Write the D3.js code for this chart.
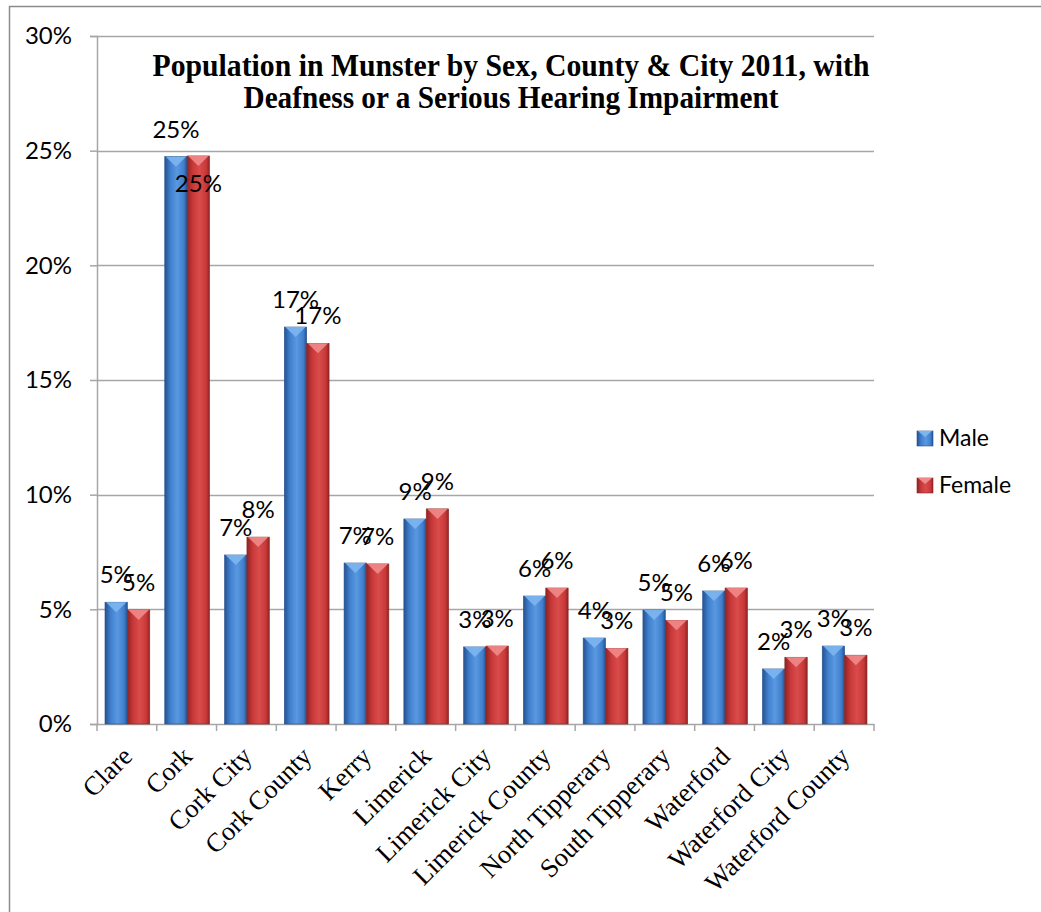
<!DOCTYPE html>
<html>
<head>
<meta charset="utf-8">
<script src="https://cdn.jsdelivr.net/npm/d3@7"></script>
<style>
  body { margin: 0; background: #fff; }
  svg { display: block; }
</style>
</head>
<body>
<svg id="chart" width="1041" height="912"></svg>
<script>
//
// Data
//
var categories = ['Clare', 'Cork', 'Cork City', 'Cork County', 'Kerry', 'Limerick',
  'Limerick City', 'Limerick County', 'North Tipperary', 'South Tipperary',
  'Waterford', 'Waterford City', 'Waterford County']
var male   = [5.31, 24.74, 7.37, 17.31, 7.02, 8.94, 3.36, 5.58, 3.75, 4.97, 5.80, 2.40, 3.40]
var female = [4.97, 24.77, 8.15, 16.60, 6.98, 9.38, 3.40, 5.93, 3.30, 4.52, 5.93, 2.91, 3.00]
var seriesNames = ['Male', 'Female']
var yTicks = [0, 5, 10, 15, 20, 25, 30]
var titleLines = ['Population in Munster by Sex, County & City 2011, with',
  'Deafness or a Serious Hearing Impairment']

//
// Layout
//
var svg = d3.select('#chart')
var margin = { left: 97, top: 36, right: 874, bottom: 724 }
var colors = {
  Male:   { dark: '#25528f', mid: '#3f7fcd', light: '#5a98e0', top: '#7db6ef' },
  Female: { dark: '#8e2424', mid: '#c93838', light: '#d94c4c', top: '#ef8a8a' }
}
var gridColor = '#a6a6a6'
var labelFont = 'Lato, "Open Sans", sans-serif'
var serifFont = '"Liberation Serif", "Times New Roman", serif'

var x = d3.scaleBand().domain(categories).range([margin.left, margin.right])
var xs = d3.scaleBand().domain(seriesNames).range([8, x.bandwidth() - 7])
var y = d3.scaleLinear().domain([0, 30]).range([margin.bottom, margin.top])

// gradients
var defs = svg.append('defs')
seriesNames.forEach(function(s) {
  var g = defs.append('linearGradient').attr('id', 'grad-' + s)
    .attr('x1', 0).attr('x2', 1).attr('y1', 0).attr('y2', 0)
  g.append('stop').attr('offset', '0%').attr('stop-color', colors[s].dark)
  g.append('stop').attr('offset', '25%').attr('stop-color', colors[s].mid)
  g.append('stop').attr('offset', '55%').attr('stop-color', colors[s].light)
  g.append('stop').attr('offset', '85%').attr('stop-color', colors[s].mid)
  g.append('stop').attr('offset', '100%').attr('stop-color', colors[s].dark)
})

// outer border
svg.append('rect').attr('x', 9.5).attr('y', 6.5).attr('width', 1100).attr('height', 1000)
  .attr('fill', 'none').attr('stroke', '#8c8c8c').attr('stroke-width', 1.5)

// gridlines
svg.append('g').selectAll('line').data(yTicks.slice(1)).join('line')
  .attr('x1', margin.left).attr('x2', margin.right)
  .attr('y1', function(d) { return Math.round(y(d)) + 0.5 })
  .attr('y2', function(d) { return Math.round(y(d)) + 0.5 })
  .attr('stroke', gridColor).attr('stroke-width', 1.5)

// y axis
var yAxis = svg.append('g').attr('transform', 'translate(' + margin.left + ',0)')
  .call(d3.axisLeft(y).tickValues(yTicks).tickSize(7).tickPadding(18)
    .tickFormat(function(d) { return d + '%' }))
yAxis.selectAll('path, line').attr('stroke', gridColor).attr('stroke-width', 1.5)
yAxis.selectAll('text').attr('font-family', labelFont).attr('font-size', 24).attr('fill', '#000')

// x axis
var xAxis = svg.append('g').attr('transform', 'translate(0,' + margin.bottom + ')')
  .call(d3.axisBottom(x).tickSize(0).tickFormat(''))
xAxis.select('path').attr('stroke', gridColor).attr('stroke-width', 1.5)
var bounds = categories.map(function(c) { return x(c) }).concat([margin.right])
xAxis.selectAll('.bnd').data(bounds).join('line').attr('class', 'bnd')
  .attr('x1', function(d) { return d }).attr('x2', function(d) { return d })
  .attr('y1', 0).attr('y2', 7)
  .attr('stroke', gridColor).attr('stroke-width', 1.5)

// category labels
svg.append('g').selectAll('text').data(categories).join('text')
  .attr('transform', function(d) {
    return 'translate(' + (x(d) + x.bandwidth() / 2 + 7) + ',' + (margin.bottom + 34) + ') rotate(-45)'
  })
  .attr('text-anchor', 'end')
  .attr('font-family', serifFont).attr('font-size', 26.5).attr('fill', '#000')
  .text(function(d) { return d })

// bars
var rows = []
categories.forEach(function(c, i) {
  rows.push({ cat: c, series: 'Male', value: male[i] })
  rows.push({ cat: c, series: 'Female', value: female[i] })
})

var bar = svg.append('g').selectAll('g').data(rows).join('g')
  .attr('transform', function(d) { return 'translate(' + (x(d.cat) + xs(d.series)) + ',0)' })

bar.append('rect')
  .attr('x', 0).attr('width', xs.bandwidth())
  .attr('y', function(d) { return y(d.value) })
  .attr('height', function(d) { return y(0) - y(d.value) })
  .attr('fill', function(d) { return 'url(#grad-' + d.series + ')' })
  .attr('stroke', function(d) { return colors[d.series].dark }).attr('stroke-width', 0.6)

bar.append('path')
  .attr('d', function(d) {
    var w = xs.bandwidth(), t = y(d.value)
    return 'M1,' + t + 'L' + (w - 1) + ',' + t + 'L' + (w / 2) + ',' + (t + 10) + 'Z'
  })
  .attr('fill', function(d) { return colors[d.series].top })
  .attr('opacity', 0.9)

// data labels
bar.append('text')
  .attr('x', xs.bandwidth() / 2)
  .attr('y', function(d) {
    // Excel pushed the tallest female label into the bar
    return d.value > 24 && d.series === 'Female' ? y(d.value) + 36 : y(d.value) - 19
  })
  .attr('text-anchor', 'middle')
  .attr('font-family', labelFont).attr('font-size', 24).attr('fill', '#000')
  .text(function(d) { return Math.round(d.value) + '%' })

// title
svg.append('g').selectAll('text').data(titleLines).join('text')
  .attr('x', 511).attr('y', function(d, i) { return 76 + i * 32 })
  .attr('text-anchor', 'middle')
  .attr('font-family', serifFont).attr('font-weight', 'bold').attr('font-size', 31)
  .attr('textLength', function(d, i) { return i === 0 ? 717 : 535 })
  .attr('lengthAdjust', 'spacingAndGlyphs')
  .text(function(d) { return d })

// legend
var legend = svg.append('g').selectAll('g').data(seriesNames).join('g')
  .attr('transform', function(d, i) { return 'translate(917,' + (431 + i * 47) + ')' })
legend.append('rect').attr('width', 16).attr('height', 15)
  .attr('fill', function(d) { return 'url(#grad-' + d + ')' })
  .attr('stroke', function(d) { return colors[d].dark }).attr('stroke-width', 0.6)
legend.append('path').attr('d', 'M1,0L15,0L8,6Z')
  .attr('fill', function(d) { return colors[d].top })
legend.append('text').attr('x', 22).attr('y', 15)
  .attr('font-family', labelFont).attr('font-size', 23).attr('fill', '#000')
  .text(function(d) { return d })
</script>
</body>
</html>
